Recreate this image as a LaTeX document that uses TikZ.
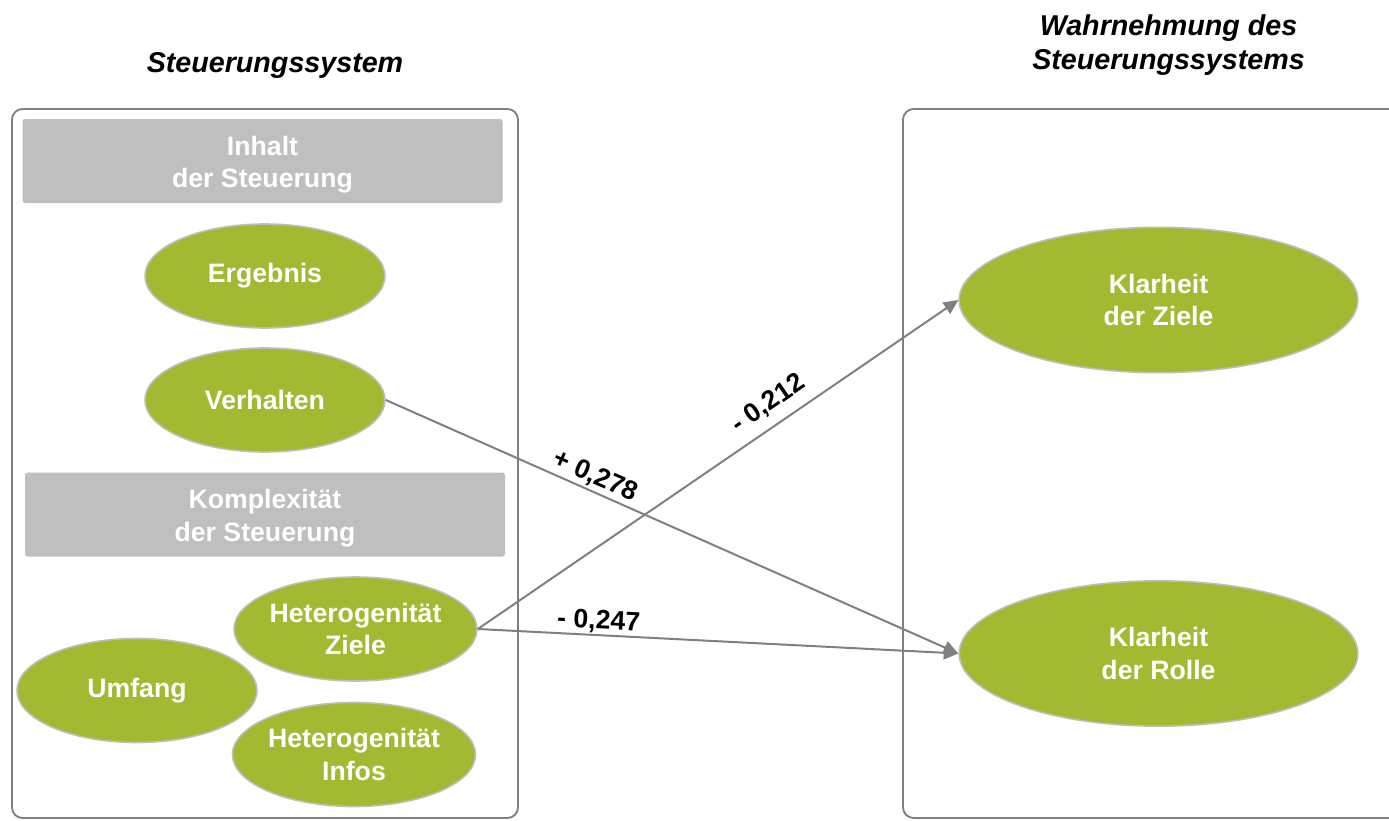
\documentclass[tikz,border=0pt]{standalone}
\usepackage{fontspec}
\setmainfont{Liberation Sans}
\usetikzlibrary{shapes.geometric,arrows.meta}
\definecolor{leaf}{RGB}{161,186,49}
\definecolor{panelgray}{RGB}{191,191,191}
\definecolor{rimgray}{RGB}{190,190,190}
\definecolor{framegray}{RGB}{128,128,128}
\definecolor{arrowgray}{RGB}{128,128,128}
\tikzset{
  txt/.style={font=\fontsize{20}{24.5}\selectfont\bfseries, align=center},
  frame/.style={draw=framegray, line width=1.4pt, rounded corners=8pt},
  headerbox/.style={fill=panelgray, rounded corners=2pt, inner sep=0pt,
    minimum width=360pt, minimum height=63pt},
  headertext/.style={txt, text=white, inner sep=0pt},
  factor/.style={txt, ellipse, fill=leaf, draw=rimgray, line width=1.2pt, text=white,
    inner sep=0pt, minimum width=180pt, minimum height=78pt},
  bigfactor/.style={factor, minimum width=299pt, minimum height=109pt},
  effect/.style={draw=arrowgray, line width=1.5pt, -{Triangle[length=11pt,width=10pt]}},
  coef/.style={txt, text=black, sloped, above, inner sep=2pt},
  heading/.style={font=\fontsize{21.5}{26}\selectfont\bfseries\itshape, align=center}
}
\begin{document}
\begin{tikzpicture}[x=0.75pt, y=-0.75pt]
\useasboundingbox (0,0) rectangle (1389,821);

% column titles
\node[heading] (tleft) at (275,65) {Steuerungssystem};
\node[heading] (tright) at (1168.5,45) {Wahrnehmung des\\Steuerungssystems};

% the two frames
\draw[frame] (12,109) rectangle (518,818);
\draw[frame] (903,109) rectangle (1420,818);

% section headers
\node[headerbox] (inhaltbox) at (262.5,161) {};
\node[headertext] (inhalt) at (262.5,164.5) {Inhalt\\der Steuerung};
\node[headerbox] (komplexbox) at (265,514.5) {};
\node[headertext] (komplex) at (265,518) {Komplexität\\der Steuerung};

% factors of the control system
\node[factor] (erg) at (265,276) {Ergebnis};
\node[factor] (verh) at (265,400) {Verhalten};
\node[factor] (hz) at (355.5,629) {Heterogenität\\Ziele};
\node[factor] (umf) at (137,690.5) {Umfang};
\node[factor] (hi) at (354,754.5) {Heterogenität\\Infos};

% perceived clarity
\node[bigfactor] (kz) at (1158.5,300) {Klarheit\\der Ziele};
\node[bigfactor] (kr) at (1158.5,653.5) {Klarheit\\der Rolle};

% path coefficients
\draw[effect] (verh.east) -- node[coef, pos=0.355] {+ 0,278} (kr.west);
\draw[effect] (hz.east) -- node[coef, pos=0.63, inner sep=7pt] {- 0,212} (kz.west);
\draw[effect] (hz.east) -- node[coef, pos=0.25, inner sep=1pt] {- 0,247} (kr.west);
\end{tikzpicture}
\end{document}
